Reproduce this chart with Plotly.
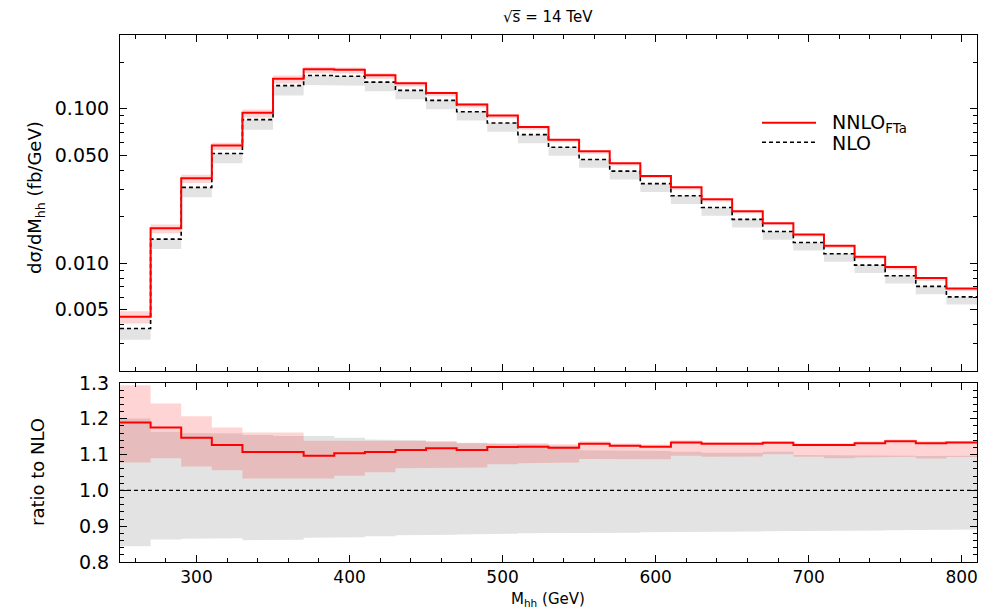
import math
import plotly.graph_objects as go

# ---------------- data ----------------
bin_edges = [250, 270, 290, 310, 330, 350, 370, 390, 410, 430, 450, 470, 490, 510, 530,
             550, 570, 590, 610, 630, 650, 670, 690, 710, 730, 750, 770, 790, 810]

# NLO central value dsigma/dMhh (fb/GeV)
nlo = [0.00377, 0.01429, 0.0309, 0.0512, 0.0849, 0.141, 0.164, 0.162, 0.1486, 0.1313,
       0.1132, 0.0956, 0.0807, 0.0679, 0.0563, 0.0469, 0.0394, 0.0327, 0.0273, 0.0229,
       0.0192, 0.0160, 0.01359, 0.01148, 0.0097, 0.00828, 0.00706, 0.00604]

# NNLO_FTa / NLO ratio (central) and its band
ratio_nnlo = [1.190, 1.176, 1.147, 1.127, 1.107, 1.107, 1.097, 1.104, 1.107, 1.113,
              1.118, 1.113, 1.121, 1.122, 1.119, 1.130, 1.125, 1.122, 1.134, 1.130,
              1.130, 1.133, 1.127, 1.127, 1.132, 1.137, 1.132, 1.134]
ratio_nnlo_hi = [1.294, 1.243, 1.207, 1.176, 1.162, 1.162, 1.139, 1.139, 1.140, 1.138,
                 1.136, 1.132, 1.132, 1.132, 1.129, 1.137, 1.131, 1.128, 1.140, 1.135,
                 1.135, 1.138, 1.132, 1.132, 1.137, 1.142, 1.137, 1.139]
ratio_nnlo_lo = [1.078, 1.090, 1.067, 1.056, 1.033, 1.033, 1.033, 1.041, 1.051, 1.062,
                 1.064, 1.064, 1.073, 1.076, 1.078, 1.088, 1.087, 1.087, 1.097, 1.094,
                 1.095, 1.101, 1.094, 1.090, 1.092, 1.094, 1.089, 1.093]
# NLO scale band relative to NLO
ratio_nlo_hi = [1.201, 1.164, 1.160, 1.159, 1.155, 1.152, 1.152, 1.147, 1.142, 1.140,
                1.137, 1.133, 1.130, 1.128, 1.125, 1.112, 1.110, 1.110, 1.108, 1.105,
                1.105, 1.108, 1.099, 1.097, 1.098, 1.097, 1.096, 1.097]
ratio_nlo_lo = [0.844, 0.863, 0.865, 0.866, 0.861, 0.862, 0.868, 0.869, 0.872, 0.875,
                0.876, 0.877, 0.879, 0.880, 0.880, 0.882, 0.882, 0.883, 0.884, 0.885,
                0.885, 0.886, 0.887, 0.887, 0.888, 0.889, 0.890, 0.891]

x_ticks = [300, 400, 500, 600, 700, 800]
top_ticks = [0.005, 0.01, 0.05, 0.1]
top_tick_text = ["0.005", "0.010", "0.050", "0.100"]
top_minor = [0.002, 0.003, 0.004, 0.006, 0.007, 0.008, 0.009, 0.02, 0.03, 0.04,
             0.06, 0.07, 0.08, 0.09, 0.2, 0.3]
bot_ticks = [0.8, 0.9, 1.0, 1.1, 1.2, 1.3]
bot_tick_text = ["0.8", "0.9", "1.0", "1.1", "1.2", "1.3"]

# ---------------- helpers ----------------
RED = "#ff0000"
PINK = "rgba(255,0,0,0.17)"
GRAY = "#e3e3e3"
FONT = "DejaVu Sans"


def steps(edges, vals):
    xs, ys = [], []
    for i, v in enumerate(vals):
        xs += [edges[i], edges[i + 1]]
        ys += [v, v]
    return xs, ys


def band(edges, lo, hi, color, xa, ya):
    xu, yu = steps(edges, hi)
    xl, yl = steps(edges, lo)
    return go.Scatter(x=xu + xl[::-1], y=yu + yl[::-1], fill="toself", fillcolor=color,
                      line=dict(width=0), mode="lines", hoverinfo="skip",
                      showlegend=False, xaxis=xa, yaxis=ya)


def stepline(edges, vals, color, width, dash, xa, ya):
    return go.Scatter(x=edges, y=list(vals) + [vals[-1]], mode="lines", line_shape="hv",
                      line=dict(color=color, width=width, dash=dash),
                      showlegend=False, xaxis=xa, yaxis=ya)


nnlo = [a * r for a, r in zip(nlo, ratio_nnlo)]
nnlo_hi = [a * r for a, r in zip(nlo, ratio_nnlo_hi)]
nnlo_lo = [a * r for a, r in zip(nlo, ratio_nnlo_lo)]
nlo_lo = [a * r for a, r in zip(nlo, ratio_nlo_lo)]
ones = [1.0 for _ in nlo]

fig = go.Figure()
# top panel (x2, y2)
fig.add_trace(band(bin_edges, nlo_lo, nlo, GRAY, "x2", "y2"))
fig.add_trace(band(bin_edges, nnlo_lo, nnlo_hi, PINK, "x2", "y2"))
fig.add_trace(stepline(bin_edges, nlo, "black", 1.6, "4px,3px", "x2", "y2"))
fig.add_trace(stepline(bin_edges, nnlo, RED, 2, "solid", "x2", "y2"))
# bottom panel (x, y)
fig.add_trace(band(bin_edges, ratio_nlo_lo, ratio_nlo_hi, GRAY, "x", "y"))
fig.add_trace(band(bin_edges, ratio_nnlo_lo, ratio_nnlo_hi, PINK, "x", "y"))
fig.add_trace(stepline(bin_edges, ones, "black", 1.3, "4px,3px", "x", "y"))
fig.add_trace(stepline(bin_edges, ratio_nnlo, RED, 2, "solid", "x", "y"))

# ---------------- layout ----------------
W, H = 981, 610
ML, MR, MT, MB = 120, 4, 35, 48
plot_h = H - MT - MB
top_dom = [(H - MB - 371) / plot_h, 1.0]
bot_dom = [0.0, (H - MB - 383) / plot_h]


def px_x(px):
    return (px - ML) / (W - ML - MR)


def px_y(py):
    return (H - MB - py) / plot_h


tickfont = dict(family=FONT, size=19, color="black")
xtickfont = dict(family=FONT, size=17, color="black")
common_x = dict(range=[250, 810], showgrid=False, zeroline=False, showline=True,
                linecolor="black", linewidth=1, mirror="allticks", ticks="inside",
                ticklen=7, tickwidth=1, tickcolor="black", tickmode="array",
                tickvals=x_ticks,
                minor=dict(dtick=20, tick0=0, ticks="inside", ticklen=4,
                           tickcolor="black", tickwidth=1, showgrid=False))

fig.update_layout(
    width=W, height=H, margin=dict(l=ML, r=MR, t=MT, b=MB, autoexpand=False),
    paper_bgcolor="white", plot_bgcolor="white", showlegend=False,
    font=dict(family=FONT, color="black"),
    xaxis=dict(**common_x, domain=[0, 1], anchor="y", tickfont=xtickfont,
               ticktext=[str(v) for v in x_ticks], ticklabelstandoff=0),
    yaxis=dict(domain=bot_dom, anchor="x", range=[0.8, 1.3], showgrid=False,
               zeroline=False, showline=True, linecolor="black", linewidth=1,
               mirror="allticks", ticks="inside", ticklen=7, tickwidth=1,
               tickcolor="black", tickmode="array", tickvals=bot_ticks,
               ticktext=bot_tick_text, tickfont=tickfont, ticklabelstandoff=6,
               minor=dict(dtick=0.02, tick0=0.8, ticks="inside", ticklen=4,
                          tickcolor="black", tickwidth=1, showgrid=False)),
    xaxis2=dict(**common_x, domain=[0, 1], anchor="y2", matches="x",
                showticklabels=False),
    yaxis2=dict(domain=top_dom, anchor="x2", type="log",
                range=[math.log10(0.002), math.log10(0.3)], showgrid=False,
                zeroline=False, showline=True, linecolor="black", linewidth=1,
                mirror="allticks", ticks="inside", ticklen=7, tickwidth=1,
                tickcolor="black", tickmode="array", tickvals=top_ticks,
                ticktext=top_tick_text, tickfont=tickfont, ticklabelstandoff=6,
                minor=dict(tickmode="array", tickvals=top_minor, ticks="inside",
                           ticklen=4, tickcolor="black", tickwidth=1, showgrid=False)),
)

ann = []
ann.append(dict(text="\u221as\u0305 = 14 TeV", x=px_x(548), y=px_y(17), xref="paper",
                yref="paper", showarrow=False, font=dict(family=FONT, size=15),
                xanchor="center", yanchor="middle"))
ann.append(dict(text="d\u03c3/dM<sub>hh</sub> (fb/GeV)", x=px_x(36), y=px_y(198),
                xref="paper", yref="paper", showarrow=False, textangle=-90,
                font=dict(family=FONT, size=18), xanchor="center", yanchor="middle"))
ann.append(dict(text="ratio to NLO", x=px_x(37), y=px_y(472), xref="paper",
                yref="paper", showarrow=False, textangle=-90,
                font=dict(family=FONT, size=18), xanchor="center", yanchor="middle"))
ann.append(dict(text="M<sub>hh</sub> (GeV)", x=px_x(548), y=px_y(588.5), xref="paper",
                yref="paper", showarrow=False, font=dict(family=FONT, size=15),
                xanchor="center", yanchor="top", borderpad=0))
# legend
ann.append(dict(text="NNLO<sub>FTa</sub>", x=px_x(830), y=px_y(124), xref="paper",
                yref="paper", showarrow=False, font=dict(family=FONT, size=19),
                xanchor="left", yanchor="middle"))
ann.append(dict(text="NLO", x=px_x(830), y=px_y(143), xref="paper", yref="paper",
                showarrow=False, font=dict(family=FONT, size=19), xanchor="left",
                yanchor="middle"))
fig.update_layout(annotations=ann)

fig.add_shape(type="line", xref="paper", yref="paper", x0=px_x(762), x1=px_x(816),
              y0=px_y(122.7), y1=px_y(122.7), line=dict(color=RED, width=2))
fig.add_shape(type="line", xref="paper", yref="paper", x0=px_x(762), x1=px_x(816),
              y0=px_y(142.3), y1=px_y(142.3),
              line=dict(color="black", width=1.6, dash="4px,3px"))

fig.write_html("out.html", config={"displayModeBar": False},
               post_script="document.body.style.margin='0px';"
                           "document.body.style.overflow='hidden';")
